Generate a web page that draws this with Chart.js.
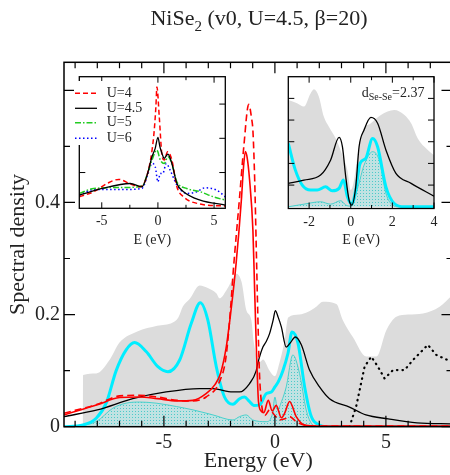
<!DOCTYPE html>
<html>
<head>
<meta charset="utf-8">
<script src="https://cdn.jsdelivr.net/npm/chart.js@4.4.1/dist/chart.umd.min.js"></script>
<style>
html, body { margin: 0; padding: 0; background: #fff; overflow: hidden; width: 450px; height: 475px; }
#wrap { position: relative; width: 450px; height: 475px; overflow: hidden; }
canvas { position: absolute; }
#main { left: 0; top: 0; }
#inset1 { left: 60px; top: 70px; }
#inset2 { left: 270px; top: 70px; }
</style>
</head>
<body>
<div id="wrap">
  <canvas id="main" width="460" height="475"></canvas>
  <canvas id="inset1" width="180" height="185"></canvas>
  <canvas id="inset2" width="180" height="185"></canvas>
</div>
<script>
// ---- main panel data (energy in eV, spectral density) ----
const greyE = [-8.66, -8.64, -8.05, -7.45, -7.0, -6.2, -5.3, -4.6, -4.35, -4.14, -3.84, -3.39, -3.0, -2.64, -2.49, -2.19, -1.95, -1.74, -1.5, -1.29, -1.06, -0.95, -0.69, -0.54, -0.24, 0.0, 0.2, 0.44, 0.6, 1.1, 1.5, 1.86, 2.16, 2.77, 3.06, 3.51, 4.12, 4.57, 5.02, 5.47, 6.0, 6.67, 7.42, 8.0];
const greyD = [0, 0.092, 0.095, 0.119, 0.150, 0.170, 0.180, 0.186, 0.195, 0.215, 0.228, 0.252, 0.247, 0.238, 0.229, 0.243, 0.26, 0.273, 0.258, 0.208, 0.19, 0.15, 0.115, 0.12, 0.10, 0.09, 0.113, 0.154, 0.195, 0.200, 0.205, 0.214, 0.223, 0.219, 0.19, 0.160, 0.125, 0.125, 0.172, 0.196, 0.2, 0.202, 0.214, 0.235];

const hatchE = [-9.0, -8.05, -7.3, -6.7, -6.1, -5.35, -4.44, -3.69, -2.79, -1.89, -1.59, -1.29, -1.0, -0.39, -0.1, 0, 0.12, 0.3, 0.51, 0.81, 1.11, 1.41, 1.64, 1.9, 8];
const hatchD = [0, 0.009, 0.033, 0.042, 0.044, 0.042, 0.036, 0.030, 0.021, 0.012, 0.018, 0.021, 0.012, 0.009, 0.025, 0.053, 0.03, 0.045, 0.071, 0.128, 0.095, 0.03, 0.006, 0, 0];

const cyanE = [-9.5, -8.65, -8.05, -7.6, -7.15, -6.7, -6.32, -5.8, -5.27, -4.82, -4.29, -3.77, -3.36, -3.02, -2.64, -2.27, -1.89, -1.59, -1.37, -1.15, -0.95, -0.69, -0.39, -0.16, 0, 0.15, 0.36, 0.59, 0.77, 1.04, 1.34, 1.64, 2.0, 2.3, 8];
const cyanD = [0, 0.003, 0.015, 0.042, 0.10, 0.137, 0.15, 0.134, 0.107, 0.098, 0.119, 0.184, 0.221, 0.19, 0.107, 0.053, 0.040, 0.05, 0.053, 0.045, 0.038, 0.039, 0.059, 0.062, 0.071, 0.08, 0.10, 0.131, 0.169, 0.149, 0.071, 0.018, 0.003, 0, 0];

const blackE = [-9.5, -8, -6.4, -4.9, -3.4, -2.8, -1.9, -1.59, -1.14, -0.84, -0.77, -0.54, -0.39, -0.24, -0.08, 0.02, 0.15, 0.29, 0.51, 0.7, 0.92, 1.19, 1.56, 2.01, 2.46, 3.36, 4.1, 5.1, 6.4, 8];
const blackD = [0.018, 0.030, 0.050, 0.062, 0.068, 0.068, 0.062, 0.062, 0.077, 0.10, 0.113, 0.142, 0.152, 0.166, 0.19, 0.207, 0.195, 0.178, 0.142, 0.15, 0.16, 0.146, 0.101, 0.071, 0.05, 0.035, 0.021, 0.014, 0.007, 0.005];

const dotE = [3.36, 3.66, 4.04, 4.34, 4.64, 4.94, 5.32, 5.84, 6.22, 6.89, 7.27, 8];
const dotD = [0, 0.036, 0.107, 0.125, 0.107, 0.086, 0.101, 0.101, 0.119, 0.146, 0.128, 0.115];

const redE = [-9.5, -8, -7, -6.1, -5.3, -4.4, -3.7, -3.1, -2.7, -2.45, -2.2, -2.0, -1.75, -1.5, -1.42, -1.33, -1.25, -1.14, -0.99, -0.91, -0.85, -0.8, -0.74, -0.62, -0.5, -0.3, -0.12, 0.06, 0.29, 0.45, 0.66, 0.96, 1.34, 2, 8];
const redD = [0.021, 0.039, 0.052, 0.053, 0.050, 0.046, 0.047, 0.059, 0.075, 0.095, 0.14, 0.2, 0.29, 0.41, 0.46, 0.491, 0.48, 0.44, 0.35, 0.24, 0.16, 0.10, 0.045, 0.028, 0.025, 0.047, 0.028, 0.038, 0.016, 0.025, 0.045, 0.018, 0.003, 0.001, 0.001];

const redDashE = [-9.5, -8, -7, -6.1, -5.3, -4.4, -3.7, -3.1, -2.5, -2.2, -1.96, -1.89, -1.59, -1.4, -1.18, -1.05, -0.99, -0.91, -0.84, -0.77, -0.7, -0.6, -0.45, -0.24, 0.0, 0.21, 0.45, 0.66, 0.96, 1.3, 2, 8];
const redDashD = [0.024, 0.040, 0.055, 0.056, 0.053, 0.047, 0.046, 0.053, 0.08, 0.125, 0.23, 0.27, 0.41, 0.50, 0.575, 0.55, 0.528, 0.44, 0.32, 0.2, 0.1, 0.04, 0.02, 0.03, 0.02, 0.012, 0.014, 0.018, 0.009, 0.003, 0.001, 0.001];

const mainXTicks = [-9, -8, -7, -6, -5, -4, -3, -2, -1, 0, 1, 2, 3, 4, 5, 6, 7];
const mainYTicks = [0, 0.1, 0.2, 0.3, 0.4, 0.5, 0.6];
const mainYLabels = ['0', '0.2', '0.4'];

// ---- left inset: U dependence ----
const insetLabels = ['U=4', 'U=4.5', 'U=5', 'U=6'];
const u4E = [-7, -5.71, -4.53, -3.49, -2.46, -1.57, -0.92, -0.38, -0.18, -0.09, 0.12, 0.36, 0.56, 0.86, 1.24, 1.69, 2.28, 3.76, 6];
const u4D = [0.058, 0.088, 0.136, 0.160, 0.133, 0.117, 0.195, 0.409, 0.585, 0.70, 0.526, 0.302, 0.273, 0.322, 0.273, 0.117, 0.058, 0.016, 0.004];
const u45E = [-7, -4.97, -2.46, -1.42, -0.92, -0.53, -0.24, 0, 0.18, 0.36, 0.56, 0.89, 1.24, 1.69, 2.28, 3.76, 6];
const u45D = [0.068, 0.107, 0.136, 0.117, 0.195, 0.292, 0.341, 0.405, 0.35, 0.312, 0.283, 0.308, 0.253, 0.136, 0.088, 0.039, 0.010];
const u5E = [-7, -5.71, -2.75, -1.42, -0.92, -0.53, -0.09, 0.21, 0.56, 0.89, 1.24, 1.69, 2.57, 3.76, 4.94, 6];
const u5D = [0.078, 0.107, 0.113, 0.121, 0.195, 0.273, 0.331, 0.273, 0.253, 0.292, 0.253, 0.146, 0.107, 0.088, 0.058, 0.039];
const u6E = [-7, -5.71, -2.75, -1.42, -0.92, -0.53, -0.24, 0, 0.21, 0.44, 0.74, 1.09, 1.69, 2.57, 3.46, 4.2, 5.24, 6];
const u6D = [0.068, 0.101, 0.101, 0.107, 0.185, 0.253, 0.234, 0.146, 0.195, 0.195, 0.253, 0.214, 0.127, 0.078, 0.088, 0.111, 0.097, 0.058];
const in1XTicks = [-5, -2.5, 0, 2.5, 5];
const in1YTicks = [0.2, 0.4, 0.6];

// ---- right inset: d(Se-Se)=2.37 ----
const in2GreyE = [-3, -2.58, -2.25, -1.93, -1.77, -1.53, -1.29, -1.05, -0.72, -0.40, -0.16, 0, 0.13, 0.32, 0.56, 0.97, 1.45, 2.09, 2.58, 2.9, 3.22, 3.7, 4];
const in2GreyD = [4.92, 4.77, 4.62, 5.23, 5.42, 5.08, 4.15, 3.69, 3.15, 2.38, 1.69, 0.77, 1.08, 2.31, 3.46, 3.85, 4.23, 4.46, 4.23, 3.85, 3.15, 2.62, 2.38];
const in2BlackE = [-3, -2.25, -1.45, -0.97, -0.56, -0.40, -0.24, -0.08, 0.05, 0.24, 0.40, 0.64, 0.97, 1.29, 1.69, 2.17, 2.9, 4];
const in2BlackD = [1.08, 1.23, 1.46, 2.15, 3.2, 2.77, 1.38, 0.31, 0.08, 0.92, 2.77, 3.54, 4.12, 3.85, 2.62, 1.54, 1.08, 0.49];
const in2CyanE = [-3, -2.66, -2.33, -1.93, -1.61, -1.21, -0.89, -0.56, -0.35, -0.16, 0.05, 0.24, 0.45, 0.72, 1.05, 1.29, 1.69, 2.09, 2.58, 4];
const in2CyanD = [2.92, 1.69, 1.0, 0.77, 0.77, 0.92, 0.74, 0.85, 1.23, 0.46, 0.12, 0.77, 2.0, 2.23, 3.15, 2.77, 0.92, 0.15, 0, 0];
const in2HatchE = [-3, -2.25, -1.45, -0.97, -0.48, -0.24, 0.03, 0.35, 0.64, 1.05, 1.37, 1.69, 2.01, 2.3, 4];
const in2HatchD = [0, 0.12, 0.23, 0.12, 0.28, 0.08, 0.03, 0.92, 1.92, 2.54, 2.15, 0.62, 0.08, 0, 0];
const in2XTicks = [-2, -1, 0, 1, 2, 3, 4];
const in2YTicks = [1, 2, 3, 4, 5];

const SERIF = "'Liberation Serif', 'Times New Roman', serif";
const INK = '#222';
const CYAN = '#00eeff';
const TURQ = '#48d1cc';
const GREY = '#dcdcdc';

function pts(e, d) {
    return e.map((x, i) => ({ x: x, y: d[i] }));
}

function series(e, d, color, width, dash, extra) {
    return Object.assign({
        data: pts(e, d),
        borderColor: color,
        borderWidth: width,
        borderDash: dash || [],
        fill: false,
        pointRadius: 0,
        cubicInterpolationMode: 'monotone'
    }, extra || {});
}

function hatchPattern() {
    const c = document.createElement('canvas');
    c.width = 3;
    c.height = 3;
    const g = c.getContext('2d');
    g.fillStyle = 'rgba(165,232,232,0.5)';
    g.fillRect(0, 0, 3, 3);
    g.fillStyle = 'rgba(56,196,196,0.85)';
    g.fillRect(0, 0, 1, 1);
    return document.getElementById('main').getContext('2d').createPattern(c, 'repeat');
}

// rich text with a subscript part
function drawRich(ctx, x, y, parts, align) {
    let w = 0;
    parts.forEach(p => {
        ctx.font = p.size + 'px ' + SERIF;
        p.w = ctx.measureText(p.t).width;
        w += p.w;
    });
    let cx = align === 'center' ? x - w / 2 : x;
    ctx.textBaseline = 'alphabetic';
    ctx.textAlign = 'left';
    parts.forEach(p => {
        ctx.font = p.size + 'px ' + SERIF;
        ctx.fillText(p.t, cx, y + (p.dy || 0));
        cx += p.w;
    });
}

// box + inward ticks on all four sides
function framePlugin(cfg) {
    return {
        id: 'frame_' + cfg.name,
        beforeDraw(chart) {
            if (!cfg.white) return;
            const a = chart.chartArea;
            chart.ctx.save();
            chart.ctx.fillStyle = '#fff';
            chart.ctx.fillRect(a.left, a.top, a.right - a.left, a.bottom - a.top);
            chart.ctx.restore();
        },
        afterDatasetsDraw(chart) {
            const ctx = chart.ctx;
            const a = chart.chartArea;
            const xs = chart.scales.x, ys = chart.scales.y;
            ctx.save();
            ctx.strokeStyle = '#000';
            ctx.lineWidth = cfg.tickWidth;
            ctx.beginPath();
            cfg.xTicks.forEach(v => {
                const px = xs.getPixelForValue(v);
                const len = cfg.xMajor(v) ? cfg.major : cfg.minor;
                ctx.moveTo(px, a.bottom); ctx.lineTo(px, a.bottom - len);
                ctx.moveTo(px, a.top); ctx.lineTo(px, a.top + len);
            });
            cfg.yTicks.forEach(v => {
                const py = ys.getPixelForValue(v);
                const len = cfg.yMajor(v) ? cfg.major : cfg.minor;
                ctx.moveTo(a.left, py); ctx.lineTo(a.left + len, py);
                ctx.moveTo(a.right, py); ctx.lineTo(a.right - len, py);
            });
            ctx.stroke();
            ctx.lineWidth = cfg.frameWidth;
            ctx.strokeRect(a.left, a.top, a.right - a.left, a.bottom - a.top);
            ctx.restore();
        }
    };
}

function fixedTicks(list) {
    return function (scale) {
        scale.ticks = list.map(v => ({ value: v }));
    };
}

const pattern = hatchPattern();

// ---------------- main chart ----------------
const mainTitle = {
    id: 'mainTitle',
    afterDraw(chart) {
        const ctx = chart.ctx;
        ctx.save();
        ctx.fillStyle = INK;
        drawRich(ctx, 259, 25, [
            { t: 'NiSe', size: 22 },
            { t: '2', size: 15, dy: 6 },
            { t: ' (v0, U=4.5, \u03b2=20)', size: 22 }
        ], 'center');
        ctx.restore();
    }
};

new Chart(document.getElementById('main'), {
    type: 'line',
    data: {
        datasets: [
            series(redE, redD, '#ff0000', 1.6),
            series(redDashE, redDashD, '#ff0000', 1.6, [7, 4]),
            series(blackE, blackD, '#000', 1.3),
            series(dotE, dotD, '#000', 2.2, [0.5, 5], { cubicInterpolationMode: 'default', tension: 0, borderCapStyle: 'round' }),
            series(cyanE, cyanD, CYAN, 3),
            series(hatchE, hatchD, TURQ, 1, [], { fill: 'origin', backgroundColor: pattern }),
            series(greyE, greyD, 'rgba(0,0,0,0)', 0, [], { fill: 'origin', backgroundColor: GREY })
        ]
    },
    options: {
        responsive: false,
        animation: false,
        events: [],
        layout: { padding: { left: 0, top: 62.3, right: 7.5, bottom: 0 } },
        plugins: { legend: { display: false }, tooltip: { enabled: false } },
        scales: {
            x: {
                type: 'linear',
                min: -9.5,
                max: 8,
                afterBuildTicks: fixedTicks(mainXTicks),
                afterFit: s => { s.height = 48.3; },
                grid: { display: false, drawTicks: false },
                border: { display: false },
                ticks: {
                    autoSkip: false,
                    maxRotation: 0,
                    padding: 4,
                    color: INK,
                    font: { family: SERIF, size: 20 },
                    callback: v => (v % 5 === 0 ? String(v) : '')
                },
                title: {
                    display: true,
                    text: 'Energy (eV)',
                    color: INK,
                    font: { family: SERIF, size: 22 },
                    padding: { top: 0, bottom: 1 }
                }
            },
            y: {
                type: 'linear',
                min: 0,
                max: 0.65,
                afterBuildTicks: fixedTicks(mainYTicks),
                afterFit: s => { s.width = 64; },
                grid: { display: false, drawTicks: false },
                border: { display: false },
                ticks: {
                    autoSkip: false,
                    padding: 4,
                    color: INK,
                    font: { family: SERIF, size: 20 },
                    callback: v => (mainYLabels.includes(String(v)) ? String(v) : '')
                },
                title: {
                    display: true,
                    text: 'Spectral density',
                    color: INK,
                    font: { family: SERIF, size: 22 },
                    padding: { top: 5, bottom: 0 }
                }
            }
        }
    },
    plugins: [
        framePlugin({
            name: 'main', white: false, xTicks: mainXTicks, yTicks: mainYTicks,
            xMajor: v => v % 5 === 0, yMajor: v => Math.round(v * 10) % 2 === 0,
            major: 11, minor: 6, tickWidth: 1.2, frameWidth: 1.5
        }),
        mainTitle
    ]
});

// ---------------- left inset ----------------
const insetStyles = [
    { color: '#ff0000', dash: [5, 3], width: 1.5 },
    { color: '#000', dash: [], width: 1.3 },
    { color: '#22cc22', dash: [6, 2, 1.5, 2], width: 1.5 },
    { color: '#0000ff', dash: [1.5, 2.5], width: 1.5 }
];

const insetLegend = {
    id: 'insetLegend',
    afterDraw(chart) {
        const ctx = chart.ctx;
        ctx.save();
        ctx.fillStyle = '#fff';
        ctx.fillRect(14, 11, 76, 64);
        const rows = [23.3, 38.3, 52.7, 68.3];
        insetLabels.forEach((lab, i) => {
            const st = insetStyles[i];
            ctx.strokeStyle = st.color;
            ctx.lineWidth = st.width;
            ctx.setLineDash(st.dash);
            ctx.beginPath();
            ctx.moveTo(15, rows[i]);
            ctx.lineTo(37, rows[i]);
            ctx.stroke();
            ctx.setLineDash([]);
            ctx.fillStyle = INK;
            ctx.font = '14px ' + SERIF;
            ctx.textBaseline = 'middle';
            ctx.textAlign = 'left';
            ctx.fillText(lab, 46.7, rows[i]);
        });
        ctx.restore();
    }
};

function insetX(min, max, ticks, labelTest) {
    return {
        type: 'linear',
        min: min,
        max: max,
        afterBuildTicks: fixedTicks(ticks),
        grid: { display: false, drawTicks: false },
        border: { display: false },
        ticks: {
            autoSkip: false,
            maxRotation: 0,
            padding: 5,
            color: INK,
            font: { family: SERIF, size: 14 },
            callback: v => (labelTest(v) ? String(v) : '')
        },
        title: {
            display: true,
            text: 'E (eV)',
            color: INK,
            font: { family: SERIF, size: 14 },
            padding: { top: 0, bottom: 6.5 }
        }
    };
}

new Chart(document.getElementById('inset1'), {
    type: 'line',
    data: {
        datasets: [
            series(u45E, u45D, insetStyles[1].color, insetStyles[1].width),
            series(u4E, u4D, insetStyles[0].color, insetStyles[0].width, insetStyles[0].dash),
            series(u5E, u5D, insetStyles[2].color, insetStyles[2].width, insetStyles[2].dash),
            series(u6E, u6D, insetStyles[3].color, insetStyles[3].width, insetStyles[3].dash)
        ]
    },
    options: {
        responsive: false,
        animation: false,
        events: [],
        layout: { padding: { left: 19.3, top: 6.7, right: 14.7, bottom: 0 } },
        plugins: { legend: { display: false }, tooltip: { enabled: false } },
        scales: {
            x: Object.assign(insetX(-7, 6, in1XTicks, v => v % 5 === 0), { afterFit: s => { s.height = 46.7; } }),
            y: { type: 'linear', display: false, min: -0.009, max: 0.76 }
        }
    },
    plugins: [
        framePlugin({
            name: 'in1', white: true, xTicks: in1XTicks, yTicks: in1YTicks,
            xMajor: v => v % 5 === 0, yMajor: () => true,
            major: 6, minor: 3.5, tickWidth: 1, frameWidth: 1.3
        }),
        insetLegend
    ]
});

// ---------------- right inset ----------------
const dLabel = {
    id: 'dLabel',
    afterDraw(chart) {
        const ctx = chart.ctx;
        ctx.save();
        ctx.fillStyle = INK;
        drawRich(ctx, 91.7, 26.7, [
            { t: 'd', size: 14 },
            { t: 'Se-Se', size: 10, dy: 3.5 },
            { t: '=2.37', size: 14 }
        ], 'left');
        ctx.restore();
    }
};

new Chart(document.getElementById('inset2'), {
    type: 'line',
    data: {
        datasets: [
            series(in2BlackE, in2BlackD, '#000', 1.3),
            series(in2CyanE, in2CyanD, CYAN, 3),
            series(in2HatchE, in2HatchD, TURQ, 1, [], { fill: 'origin', backgroundColor: pattern }),
            series(in2GreyE, in2GreyD, 'rgba(0,0,0,0)', 0, [], { fill: 'origin', backgroundColor: GREY })
        ]
    },
    options: {
        responsive: false,
        animation: false,
        events: [],
        layout: { padding: { left: 18.3, top: 6.7, right: 16, bottom: 0 } },
        plugins: { legend: { display: false }, tooltip: { enabled: false } },
        scales: {
            x: Object.assign(insetX(-3, 4, in2XTicks, v => v % 2 === 0), { afterFit: s => { s.height = 46.5; } }),
            y: { type: 'linear', display: false, min: -0.08, max: 6 }
        }
    },
    plugins: [
        framePlugin({
            name: 'in2', white: true, xTicks: in2XTicks, yTicks: in2YTicks,
            xMajor: v => v % 2 === 0, yMajor: () => true,
            major: 6, minor: 3.5, tickWidth: 1, frameWidth: 1.3
        }),
        dLabel
    ]
});
</script>
</body>
</html>
